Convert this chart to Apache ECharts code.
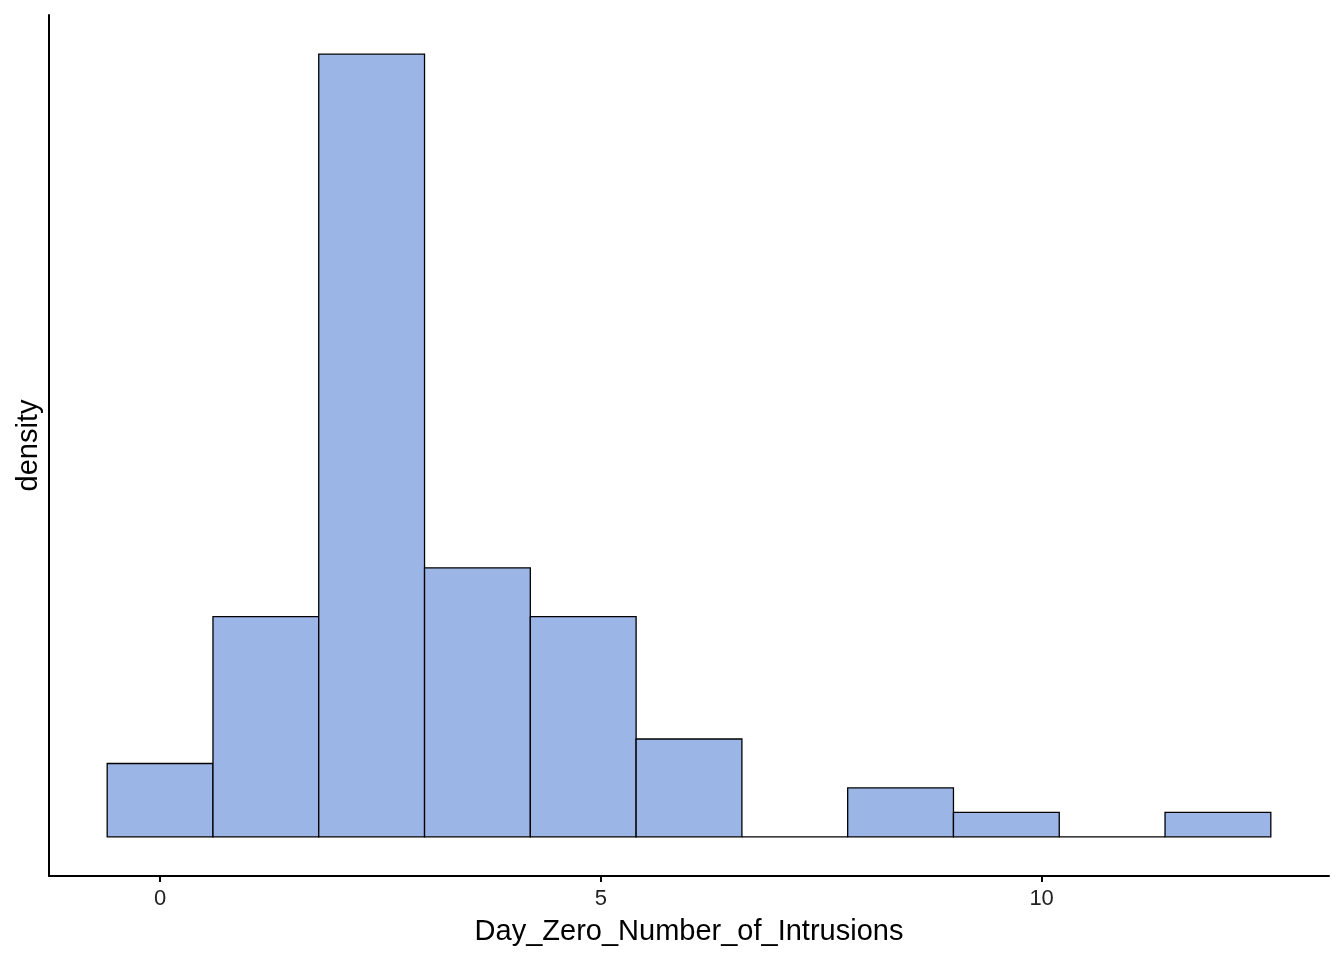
<!DOCTYPE html>
<html>
<head>
<meta charset="utf-8">
<script src="https://cdn.jsdelivr.net/npm/echarts@6/dist/echarts.min.js"></script>
<style>
html,body{margin:0;padding:0;background:#fff;}
#chart{width:1344px;height:960px;}
</style>
</head>
<body>
<div id="chart"></div>
<script>
// Histogram bins (left edges, width 1.2) and counts
const binStarts = [-0.6, 0.6, 1.8, 3.0, 4.2, 5.4, 6.6, 7.8, 9.0, 10.2, 11.4];
const binWidth = 1.2;
const counts = [3, 9, 32, 11, 9, 4, 0, 2, 1, 0, 1];
const xTicks = [0, 5, 10];

const total = counts.reduce((a, b) => a + b, 0);
const densities = counts.map(c => c / (total * binWidth));
const data = binStarts.map((s, i) => [s, s + binWidth, densities[i]]);
const maxD = Math.max(...densities);

const FONT = 'Liberation Sans';
const chart = echarts.init(document.getElementById('chart'), null, {renderer: 'canvas'});
chart.setOption({
  animation: false,
  grid: {left: 49, right: 15, top: 15, bottom: 84, containLabel: false},
  xAxis: {
    type: 'value',
    min: -1.26, max: 13.26,
    name: 'Day_Zero_Number_of_Intrusions',
    nameLocation: 'middle', nameGap: 41,
    nameTextStyle: {fontFamily: FONT, fontSize: 29, color: '#000'},
    axisLine: {show: true, onZero: false, lineStyle: {color: '#000', width: 2}},
    axisTick: {show: true, length: 6, lineStyle: {color: '#000', width: 2},
      customValues: xTicks},
    axisLabel: {fontFamily: FONT, fontSize: 22, color: '#222', margin: 12,
      customValues: xTicks},
    splitLine: {show: false}
  },
  yAxis: {
    type: 'value',
    min: -0.05 * maxD, max: 1.05 * maxD,
    name: 'density',
    nameLocation: 'middle', nameGap: 6,
    nameTextStyle: {fontFamily: FONT, fontSize: 29, color: '#000'},
    axisLine: {show: true, onZero: false, lineStyle: {color: '#000', width: 2}},
    axisTick: {show: false},
    axisLabel: {show: false},
    splitLine: {show: false}
  },
  series: [{
    type: 'custom',
    data: data,
    encode: {x: [0, 1], y: 2},
    renderItem: function (params, api) {
      const h = api.value(2);
      if (h <= 0) {
        const a = api.coord([api.value(0), 0]);
        const b = api.coord([api.value(1), 0]);
        return {type: 'line', shape: {x1: a[0], y1: a[1], x2: b[0], y2: b[1]},
          style: {stroke: '#000', lineWidth: 1.3}};
      }
      const p0 = api.coord([api.value(0), h]);
      const p1 = api.coord([api.value(1), 0]);
      return {
        type: 'rect',
        shape: {x: p0[0], y: p0[1], width: p1[0] - p0[0], height: p1[1] - p0[1]},
        style: {fill: '#9bb5e7', stroke: '#000', lineWidth: 1.3}
      };
    }
  }]
});
</script>
</body>
</html>
